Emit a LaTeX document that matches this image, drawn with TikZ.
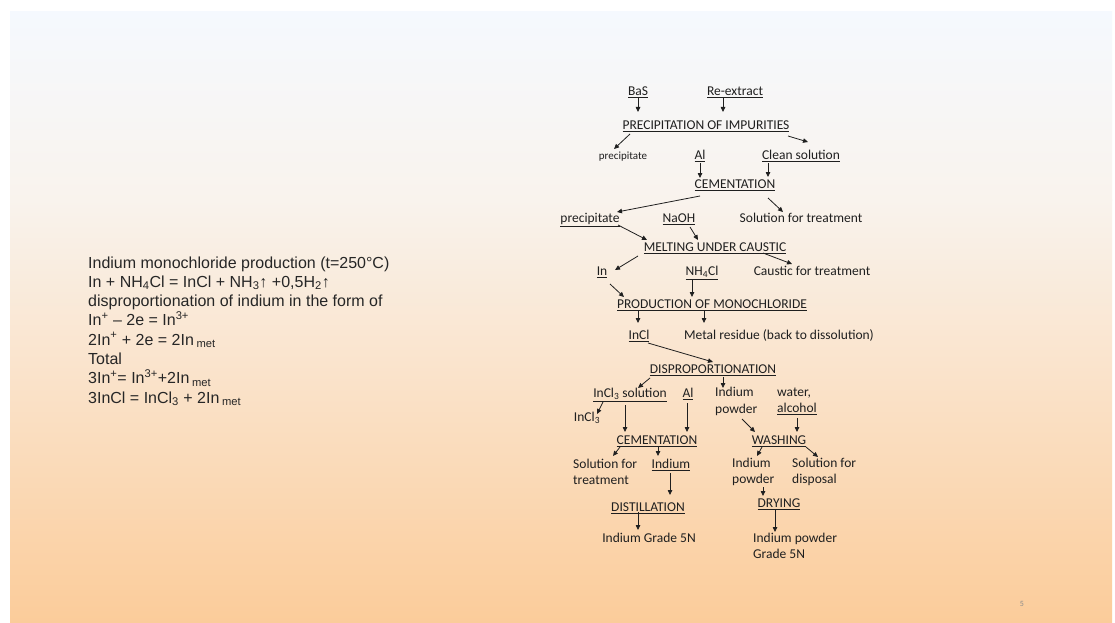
\documentclass[tikz,border=0pt]{standalone}
\usepackage{fontspec}
\setmainfont{Carlito}
\newfontfamily\arialf{Liberation Sans}
\usetikzlibrary{arrows.meta}
\definecolor{bgtop}{RGB}{245,249,254}
\definecolor{bgmid}{RGB}{249,243,237}
\definecolor{bgbot}{RGB}{251,204,154}
\begin{document}
\begin{tikzpicture}[x=1pt,y=-1pt,
  txt/.style={font=\fontsize{13.5}{16.5}\selectfont, text=black!88, inner sep=0pt},
  lab/.style={txt, text height=9pt, text depth=0pt},
  sml/.style={lab, font=\fontsize{11}{12}\selectfont},
  two/.style={txt, align=left, anchor=west},
  arr/.style={-{Triangle[length=5pt,width=4.5pt]}, line width=0.8pt, draw=black!88},
  lt/.style={font=\arialf\fontsize{16}{19.3}\selectfont, text=black!85, inner sep=0pt, anchor=base west}
]
\useasboundingbox (0,0) rectangle (1115,623);
\fill[white] (0,0) rectangle (1115,623);
\shade[top color=bgtop, bottom color=bgmid] (10,12) rectangle (1112,200);
\shade[top color=bgmid, bottom color=bgbot] (10,199.5) rectangle (1112,623);

% left text
\node[lt] (l1) at (88,268) {Indium monochloride production (t=250°C)};
\node[lt] (l2) at (88,287.3) {In + NH\textsubscript{4}Cl = InCl + NH\textsubscript{3}↑ +0,5H\textsubscript{2}↑};
\node[lt] (l3) at (88,306.6) {disproportionation of indium in the form of};
\node[lt] (l4) at (88,325.9) {In\textsuperscript{+} – 2e = In\textsuperscript{3+}};
\node[lt] (l5) at (88,345.2) {2In\textsuperscript{+} + 2e = 2In\,\textsubscript{met}};
\node[lt] (l6) at (88,364.5) {Total};
\node[lt] (l7) at (88,383.8) {3In\textsuperscript{+}= In\textsuperscript{3+}+2In\,\textsubscript{met}};
\node[lt] (l8) at (88,403.1) {3InCl = InCl\textsubscript{3} + 2In\,\textsubscript{met}};

% flowchart nodes
\node[lab] (bas) at (638,91) {\underline{BaS}};
\node[lab] (reex) at (735,91) {\underline{Re-extract}};
\node[lab] (pimp) at (706,125) {\underline{PRECIPITATION OF IMPURITIES}};
\node[sml] (prec1) at (623,155) {precipitate};
\node[lab] (al1) at (700,155) {\underline{Al}};
\node[lab] (clean) at (801,155) {\underline{Clean solution}};
\node[lab] (cem1) at (735,184) {\underline{CEMENTATION}};
\node[lab] (prec2) at (590,218) {\underline{precipitate}};
\node[lab] (naoh) at (679,218) {\underline{NaOH}};
\node[lab] (sft1) at (801,218) {Solution for treatment};
\node[lab] (melt) at (715,247) {\underline{MELTING UNDER CAUSTIC}};
\node[lab] (caust) at (812,271) {Caustic for treatment};
\node[lab] (in) at (602,271) {\underline{In}};
\node[lab] (nh4cl) at (702,271) {\underline{NH\textsubscript{4}Cl}};
\node[lab] (prod) at (712,304) {\underline{PRODUCTION OF MONOCHLORIDE}};
\node[lab] (incl) at (639,335) {\underline{InCl}};
\node[lab] (metal) at (779,335) {Metal residue (back to dissolution)};
\node[lab] (disp) at (713,369) {\underline{DISPROPORTIONATION}};
\node[lab] (incl3sol) at (630,393) {\underline{InCl\textsubscript{3} solution}};
\node[lab] (al2) at (688,393) {\underline{Al}};
\node[two] (indpow1) at (715,401.5) {Indium\\powder};
\node[two] (water) at (777,401.5) {water,\\\underline{alcohol}};
\node[lab] (incl3) at (587,417) {InCl\textsubscript{3}};
\node[lab] (cem2) at (657,440) {\underline{CEMENTATION}};
\node[lab] (wash) at (779,440) {\underline{WASHING}};
\node[two] (sft2) at (573,472) {Solution for\\treatment};
\node[lab] (indium) at (671,464) {\underline{Indium}};
\node[two] (indpow2) at (732,472) {Indium\\powder};
\node[two] (sfd) at (792,472) {Solution for\\disposal};
\node[lab] (dist) at (648,507) {\underline{DISTILLATION}};
\node[lab] (dry) at (779,503) {\underline{DRYING}};
\node[lab] (grade1) at (649,538) {Indium Grade 5N};
\node[two] (grade2) at (753,546) {Indium powder\\Grade 5N};

\node[font=\fontsize{8}{9}\selectfont, text=black!45, inner sep=0pt] (pg) at (1022,604) {5};

% connectors
\draw[arr] ([shift={(0,7)}]bas.center) -- ([shift={(-68,-13)}]pimp.center);
\draw[arr] ([shift={(-12,7)}]reex.center) -- ([shift={(17,-13)}]pimp.center);
\draw[arr] ([shift={(-76,9)}]pimp.center) -- ([shift={(-9,-6)}]prec1.center);
\draw[arr] ([shift={(82,11)}]pimp.center) -- ([shift={(7,-13)}]clean.center);
\draw[arr] ([shift={(0,8)}]al1.center) -- ([shift={(-35,-6)}]cem1.center);
\draw[arr] ([shift={(-33,8)}]clean.center) -- ([shift={(33,-7)}]cem1.center);
\draw[arr] ([shift={(-35,12)}]cem1.center) -- ([shift={(27,-6)}]prec2.center);
\draw[arr] ([shift={(33,14)}]cem1.center) -- ([shift={(-18,-6)}]sft1.center);
\draw[arr] ([shift={(28,7)}]prec2.center) -- ([shift={(-68,-7)}]melt.center);
\draw[arr] ([shift={(11,9)}]naoh.center) -- ([shift={(-17,-7)}]melt.center);
\draw[arr] ([shift={(-77,9)}]melt.center) -- ([shift={(13,-1)}]in.center);
\draw[arr] ([shift={(48,6)}]melt.center) -- ([shift={(-20,-7)}]caust.center);
\draw[arr] ([shift={(8,13)}]in.center) -- ([shift={(-88,-7)}]prod.center);
\draw[arr] ([shift={(-10,9)}]nh4cl.center) -- ([shift={(-20,-7)}]prod.center);
\draw[arr] ([shift={(-74,7)}]prod.center) -- ([shift={(-1,-12)}]incl.center);
\draw[arr] ([shift={(-8,7)}]prod.center) -- ([shift={(-75,-12)}]metal.center);
\draw[arr] ([shift={(9,8)}]incl.center) -- ([shift={(0,-7)}]disp.center);
\draw[arr] ([shift={(-63,9)}]disp.center) -- ([shift={(8,-5)}]incl3sol.center);
\draw[arr] ([shift={(10,8)}]disp.center) -- ([shift={(8,-13.5)}]indpow1.west);
\draw[arr] ([shift={(-27,9)}]incl3sol.center) -- ([shift={(10,-3)}]incl3.center);
\draw[arr] ([shift={(-5,12)}]incl3sol.center) -- ([shift={(-32,-8)}]cem2.center);
\draw[arr] ([shift={(-1,10)}]al2.center) -- ([shift={(30,-8)}]cem2.center);
\draw[arr] ([shift={(27,17.5)}]indpow1.west) -- ([shift={(-24,-8)}]wash.center);
\draw[arr] ([shift={(20,16.5)}]water.west) -- ([shift={(18,-8)}]wash.center);
\draw[arr] ([shift={(-37,7)}]cem2.center) -- ([shift={(40,-16)}]sft2.west);
\draw[arr] ([shift={(1,7)}]cem2.center) -- ([shift={(-13,-8)}]indium.center);
\draw[arr] ([shift={(-17,7)}]wash.center) -- ([shift={(25,-16)}]indpow2.west);
\draw[arr] ([shift={(27,7)}]wash.center) -- ([shift={(26,-15)}]sfd.west);
\draw[arr] ([shift={(-1,9)}]indium.center) -- ([shift={(22,-12)}]dist.center);
\draw[arr] ([shift={(31,15)}]indpow2.west) -- ([shift={(-16,-7)}]dry.center);
\draw[arr] ([shift={(-10,5)}]dist.center) -- ([shift={(-11,-8)}]grade1.center);
\draw[arr] ([shift={(-4,7)}]dry.center) -- ([shift={(22,-14)}]grade2.west);
\end{tikzpicture}
\end{document}
